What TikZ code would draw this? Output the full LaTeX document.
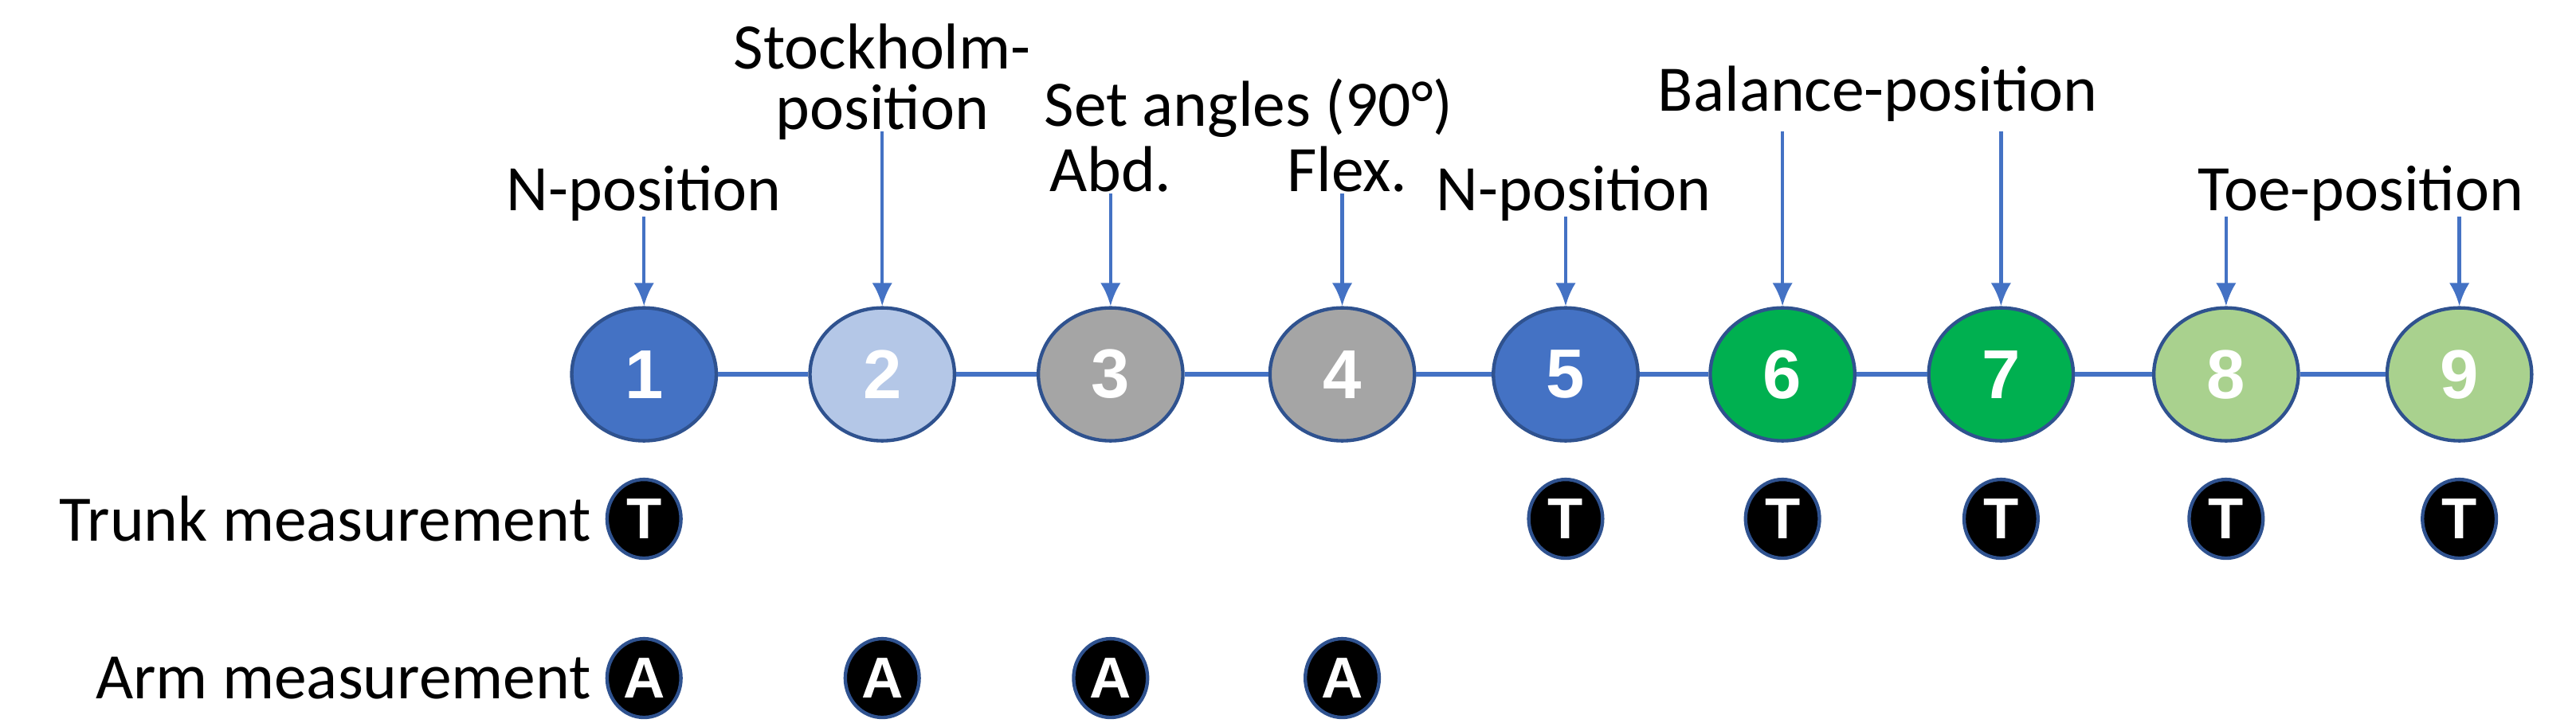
\documentclass[tikz,border=0pt]{standalone}
\usepackage{fontspec}
\setmainfont{Carlito}
\newfontfamily\numfont{Liberation Sans}
\usetikzlibrary{arrows.meta,shapes.geometric}
\begin{document}
\begin{tikzpicture}[x=0.02cm,y=-0.02cm,
  big/.style={ellipse,draw={rgb,255:red,47;green,82;blue,143},line width=1.2pt,minimum width=1.76cm,minimum height=1.62cm,inner sep=0pt,text=white,font=\numfont\bfseries\fontsize{24}{26}\selectfont},
  sm/.style={ellipse,fill=black,draw={rgb,255:red,47;green,82;blue,143},line width=1.2pt,minimum width=0.9cm,minimum height=0.96cm,inner sep=0pt,text=white,font=\numfont\bfseries\fontsize{20}{22}\selectfont},
  lab/.style={font=\fontsize{22.5}{23}\selectfont,align=center,inner sep=0pt},
  arr/.style={draw={rgb,255:red,68;green,114;blue,196},line width=1.2pt,-{Latex[length=8pt,width=7pt]}},
  conn/.style={draw={rgb,255:red,68;green,114;blue,196},line width=1.5pt}]
\useasboundingbox (0,0) rectangle (1568,440);
\definecolor{cA}{RGB}{68,114,196}\definecolor{cB}{RGB}{180,199,231}
\definecolor{cC}{RGB}{165,165,165}\definecolor{cD}{RGB}{0,176,80}\definecolor{cE}{RGB}{169,209,142}
\foreach \i/\x/\c in {1/392/cA,2/537/cB,3/676/cC,4/817/cC,5/953/cA,6/1085/cD,7/1218/cD,8/1355/cE,9/1497/cE}
  \node[big,fill=\c] (n\i) at (\x,228) {\i};
\foreach \a/\b in {1/2,2/3,3/4,4/5,5/6,6/7,7/8,8/9} \draw[conn] (n\a) -- (n\b);
\foreach \i/\x in {1/392,5/953,6/1085,7/1218,8/1355,9/1497} \node[sm] (t\i) at (\x,316) {T};
\foreach \i/\x in {1/392,2/537,3/676,4/817} \node[sm] (a\i) at (\x,413) {A};
\node[lab,anchor=east] (tl) at (360,316) {Trunk measurement};
\node[lab,anchor=east] (al) at (360,413) {Arm measurement};
\node[lab] (l1) at (392,118) {N-position};
\node[lab] (l2) at (537,50) {Stockholm-\\[-2pt]position};
\node[lab] (l3) at (760,66) {Set angles (90°)};
\node[lab] (l3a) at (676,103) {Abd.};
\node[lab] (l4a) at (820,103) {Flex.};
\node[lab] (l5) at (958,118) {N-position};
\node[lab] (l6) at (1143,57) {Balance-position};
\node[lab] (l8) at (1437,118) {Toe-position};
\coordinate (s1) at (392,132); \coordinate (s2) at (537,80);
\coordinate (s3) at (676,118); \coordinate (s4) at (817,118);
\coordinate (s5) at (953,132); \coordinate (s6) at (1085,80);
\coordinate (s7) at (1218,80); \coordinate (s8) at (1355,132);
\coordinate (s9) at (1497,132);
\foreach \i in {1,...,9} \draw[arr] (s\i) -- (s\i |- n\i.north);
\end{tikzpicture}
\end{document}
